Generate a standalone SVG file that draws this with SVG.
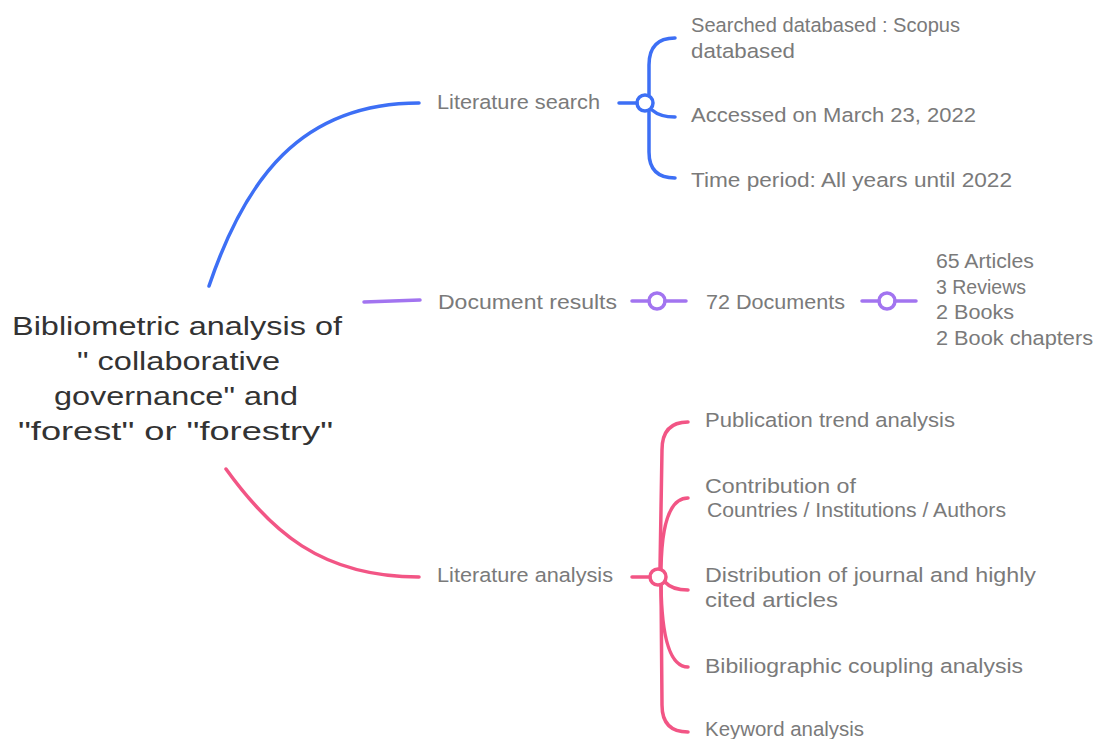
<svg xmlns="http://www.w3.org/2000/svg" width="1099" height="739" viewBox="0 0 1099 739">
<style>
.t{font-family:"Liberation Sans",Arial,sans-serif;font-size:20.5px;fill:#7a7a7a}
.c{font-family:"Liberation Sans",Arial,sans-serif;font-size:26px;fill:#333}
.b{stroke:#3d6ff5;stroke-width:3.5;fill:none;stroke-linecap:round}
.p{stroke:#a274f0;stroke-width:3.5;fill:none;stroke-linecap:round}
.k{stroke:#f25585;stroke-width:3.5;fill:none;stroke-linecap:round}
</style>
<rect width="1099" height="739" fill="#fff"/>
<g id="connectors">
<path class="b" d="M209,286 C245,180 300,103 419,103"/>
<path class="b" d="M619,103 L637,103"/>
<path class="b" d="M649,95 L649,65 Q649,38 675,38"/>
<path class="b" d="M652,110 Q660,117 675,117"/>
<path class="b" d="M649,111 L649,152 Q649,178 675,178"/>
<path class="p" d="M364,302 L420,300"/>
<path class="p" d="M632,301 L649,301 M665,301 L686,301"/>
<path class="p" d="M862,301 L879,301 M895,301 L916,301"/>
<path class="k" d="M226,469 C270,530 320,577 419,577"/>
<path class="k" d="M632,577 L650,577"/>
<path class="k" d="M660,569 L662,450 Q662,422 688,422"/>
<path class="k" d="M661,569 Q662,498 688,498"/>
<path class="k" d="M665,582 Q672,590 688,590"/>
<path class="k" d="M661,585 Q662,667 688,667"/>
<path class="k" d="M661,585 L662,705 Q662,732 688,732"/>
<circle class="b" cx="645" cy="103" r="8"/>
<circle class="p" cx="657" cy="301" r="8"/>
<circle class="p" cx="887" cy="301" r="8"/>
<circle class="k" cx="658" cy="577" r="8"/>
</g>
<g id="root">
<text class="c" x="12" y="335" textLength="330" lengthAdjust="spacingAndGlyphs">Bibliometric analysis of</text>
<text class="c" x="77" y="370" textLength="203" lengthAdjust="spacingAndGlyphs">" collaborative</text>
<text class="c" x="54" y="405" textLength="244" lengthAdjust="spacingAndGlyphs">governance" and</text>
<text class="c" x="18" y="440" textLength="315" lengthAdjust="spacingAndGlyphs">"forest" or "forestry"</text>
</g>
<g id="literature-search">
<text class="t" x="437" y="109" textLength="163" lengthAdjust="spacingAndGlyphs">Literature search</text>
</g>
<g id="searched">
<text class="t" x="691" y="32" textLength="269" lengthAdjust="spacingAndGlyphs">Searched databased : Scopus</text>
<text class="t" x="691" y="58" textLength="104" lengthAdjust="spacingAndGlyphs">databased</text>
</g>
<g id="accessed"><text class="t" x="691" y="122" textLength="285" lengthAdjust="spacingAndGlyphs">Accessed on March 23, 2022</text></g>
<g id="time-period"><text class="t" x="691" y="187" textLength="321" lengthAdjust="spacingAndGlyphs">Time period: All years until 2022</text></g>
<g id="document-results"><text class="t" x="438" y="309" textLength="179" lengthAdjust="spacingAndGlyphs">Document results</text></g>
<g id="documents72"><text class="t" x="706" y="309" textLength="139" lengthAdjust="spacingAndGlyphs">72 Documents</text></g>
<g id="doc-types">
<text class="t" x="936" y="268" textLength="98" lengthAdjust="spacingAndGlyphs">65 Articles</text>
<text class="t" x="936" y="294" textLength="90" lengthAdjust="spacingAndGlyphs">3 Reviews</text>
<text class="t" x="936" y="319" textLength="78" lengthAdjust="spacingAndGlyphs">2 Books</text>
<text class="t" x="936" y="345" textLength="157" lengthAdjust="spacingAndGlyphs">2 Book chapters</text>
</g>
<g id="literature-analysis"><text class="t" x="437" y="582" textLength="176" lengthAdjust="spacingAndGlyphs">Literature analysis</text></g>
<g id="publication-trend"><text class="t" x="705" y="427" textLength="250" lengthAdjust="spacingAndGlyphs">Publication trend analysis</text></g>
<g id="contribution">
<text class="t" x="705" y="493" textLength="151" lengthAdjust="spacingAndGlyphs">Contribution of</text>
<text class="t" x="707" y="517" textLength="299" lengthAdjust="spacingAndGlyphs">Countries / Institutions / Authors</text>
</g>
<g id="distribution">
<text class="t" x="705" y="582" textLength="331" lengthAdjust="spacingAndGlyphs">Distribution of journal and highly</text>
<text class="t" x="705" y="607" textLength="133" lengthAdjust="spacingAndGlyphs">cited articles</text>
</g>
<g id="coupling"><text class="t" x="705" y="673" textLength="318" lengthAdjust="spacingAndGlyphs">Bibiliographic coupling analysis</text></g>
<g id="keyword"><text class="t" x="705" y="736" textLength="159" lengthAdjust="spacingAndGlyphs">Keyword analysis</text></g>
</svg>
